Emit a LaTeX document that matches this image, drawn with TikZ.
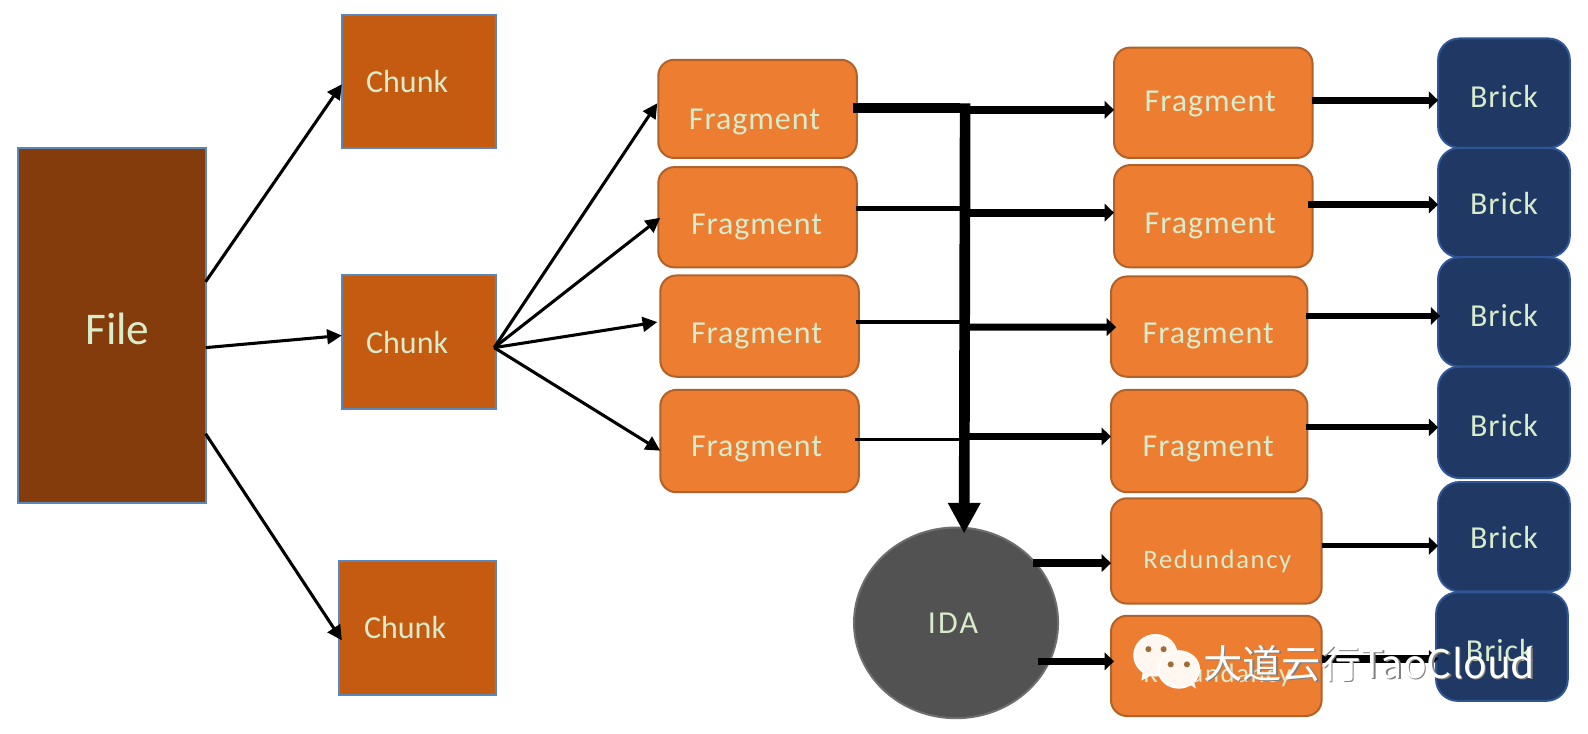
\documentclass[tikz,border=0pt]{standalone}
\usepackage{fontspec}
\setmainfont{Carlito}
\newfontfamily\wmfont{Noto Sans CJK SC}
\newfontfamily\spacedfont[LetterSpace=6]{Carlito}
\newfontfamily\midfont[LetterSpace=3]{Carlito}
\newfontfamily\idafont[LetterSpace=7]{Carlito}
\usetikzlibrary{arrows.meta,calc,shapes.geometric}
\definecolor{labelc}{HTML}{D8EBCB}
\definecolor{bluebd}{HTML}{5B86B8}
\definecolor{filec}{HTML}{843C0C}
\definecolor{chunkc}{HTML}{C55A11}
\definecolor{fragc}{HTML}{ED7D31}
\definecolor{fragbd}{HTML}{B0622A}
\definecolor{brickc}{HTML}{1F3864}
\definecolor{brickbd}{HTML}{2F5597}
\definecolor{idac}{HTML}{525252}
\definecolor{idabd}{HTML}{6E6E6E}
\tikzset{
  x=0.7595pt,y=-0.7595pt,
  boxbase/.style={inner sep=0pt,outer sep=0pt,line width=1.5pt},
  filebox/.style={boxbase,draw=bluebd,fill=filec},
  chunkbox/.style={boxbase,draw=bluebd,fill=chunkc},
  fragbox/.style={boxbase,draw=fragbd,fill=fragc,rounded corners=12pt},
  brickbox/.style={boxbase,draw=brickbd,fill=brickc,rounded corners=16pt},
  idanode/.style={boxbase,shape=ellipse,draw=idabd,fill=idac},
  txt/.style={text=labelc,inner sep=0pt,font=\midfont\fontsize{24}{28}\selectfont},
  txtchunk/.style={text=labelc,inner sep=0pt,font=\fontsize{24}{28}\selectfont},
  txtida/.style={text=labelc,inner sep=0pt,font=\idafont\fontsize{24}{28}\selectfont},
  txtbig/.style={text=labelc,inner sep=0pt,font=\fontsize{34}{40}\selectfont},
  txtred/.style={text=labelc,inner sep=0pt,font=\spacedfont\fontsize{20}{24}\selectfont},
  arr/.style={line width=2.3pt,-{Triangle[length=11pt,width=11pt]}},
  arrthick/.style={line width=#1,-{Triangle[length=7pt,width=13pt]}},
  bar/.style={line width=#1},
}
\newcommand{\bx}[7]{% style,name,x1,y1,x2,y2,empty
  \pgfmathsetmacro{\cxv}{(#3+#5)/2}\pgfmathsetmacro{\cyv}{(#4+#6)/2}
  \pgfmathsetmacro{\wv}{(#5-#3)*0.7595}\pgfmathsetmacro{\hv}{(#6-#4)*0.7595}
  \node[#1,minimum width=\wv pt,minimum height=\hv pt] (#2) at (\cxv,\cyv) {};
}
\begin{document}
\begin{tikzpicture}
\useasboundingbox (0,0) rectangle (1568,724.7);
\fill[white] (0,0) rectangle (1568,724.7);
% boxes
\bx{filebox}{file}{17.5}{146.5}{203}{497}{}
\bx{chunkbox}{ch1}{337.5}{14.5}{490}{146}{}
\bx{chunkbox}{ch2}{337.5}{271.5}{490}{404}{}
\bx{chunkbox}{ch3}{334.5}{553.5}{490}{686}{}
\bx{fragbox}{lf1}{650}{59}{846}{156}{}
\bx{fragbox}{lf2}{650}{165}{846}{264}{}
\bx{fragbox}{lf3}{652}{272}{848}{372}{}
\bx{fragbox}{lf4}{652}{385}{848}{486}{}
\bx{fragbox}{rf1}{1100}{47}{1296}{156}{}
\bx{fragbox}{rf2}{1100}{163}{1296}{264}{}
\bx{fragbox}{rf3}{1097}{273}{1291}{372}{}
\bx{fragbox}{rf4}{1097}{385}{1291}{486}{}
\bx{fragbox}{rd1}{1097}{492}{1305}{596}{}
\bx{fragbox}{rd2}{1097}{608}{1305}{707}{}
\bx{brickbox}{b1}{1420}{38}{1550}{146}{}
\bx{brickbox}{b2}{1420}{146}{1550}{254}{}
\bx{brickbox}{b3}{1420}{254}{1550}{362}{}
\bx{brickbox}{b4}{1420}{362}{1550}{472}{}
\bx{brickbox}{b5}{1420}{476}{1550}{584}{}
\bx{brickbox}{b6}{1418}{585}{1548}{692}{}
\node[idanode,minimum width=153pt,minimum height=143pt] (ida) at (944,615) {};
% labels
\node[txtbig] (tfile) at (116,325) {File};
\node[txtchunk] (tc1) at (402,80) {Chunk};
\node[txtchunk] (tc2) at (402,338) {Chunk};
\node[txtchunk] (tc3) at (400,620) {Chunk};
\node[txt] (tl1) at (745,120) {Fragment};
\node[txt] (tl2) at (747,224) {Fragment};
\node[txt] (tl3) at (747,332) {Fragment};
\node[txt] (tl4) at (747,443) {Fragment};
\node[txt] (tr1) at (1195,103) {Fragment};
\node[txt] (tr2) at (1195,223) {Fragment};
\node[txt] (tr3) at (1193,332) {Fragment};
\node[txt] (tr4) at (1193,443) {Fragment};
\node[txtred] (trd1) at (1202,554) {Redundancy};
\node[txtred] (trd2) at (1202,667) {Redundancy};
\node[txt] (tb1) at (1485,95) {Brick};
\node[txt] (tb2) at (1485,201) {Brick};
\node[txt] (tb3) at (1485,312) {Brick};
\node[txt] (tb4) at (1485,420) {Brick};
\node[txt] (tb5) at (1485,531) {Brick};
\node[txt] (tb6) at (1481,642) {Brick};
\node[txtida] (tida) at (941,615) {IDA};
% thin arrows
\draw[arr] ($(file.east)+(0,-43.5)$) -- ($(ch1.west)+(0,3)$);
\draw[arr] ($(file.east)+(0,21.5)$) -- ($(ch2.west)+(0,-6.5)$);
\draw[arr] ($(file.east)+(0,106.5)$) -- ($(ch3.west)+(3,12.5)$);
\coordinate (hub) at ($(ch2.east)+(-2,5.5)$);
\draw[arr] (hub) -- ($(lf1.west)+(-1,-5.5)$);
\draw[arr] (hub) -- ($(lf2.west)+(2,0.5)$);
\draw[arr] (hub) -- ($(lf3.west)+(-3,-4)$);
\draw[arr] (hub) -- ($(lf4.west)+(0,9.5)$);
% bus
\coordinate (j0) at (953,102);
\coordinate (j1) at (953,108.5);
\coordinate (j2) at (953,210);
\coordinate (j3) at (953,323);
\coordinate (j4) at (953,431);
\draw[bar=7.6pt] ($(lf1.east)+(-4,-0.5)$) -- (948,107);
\draw[bar=3.6pt] ($(lf2.east)+(-1,-9)$) -- (953,205.5);
\draw[bar=3.4pt] ($(lf3.east)+(-3,-4)$) -- (953,318);
\draw[bar=2.8pt] ($(lf4.east)+(-4,-1.5)$) -- (953,434);
\draw[arrthick=5.8pt] (j1) -- ($(rf1.west)+(0,7)$);
\draw[arrthick=5.8pt] (j2) -- ($(rf2.west)+(0,-3.5)$);
\draw[arrthick=5.2pt] (j3) -- ($(rf3.west)+(5,0.5)$);
\draw[arrthick=5.2pt] (j4) -- ($(rf4.west)+(0,-4.5)$);
\draw[line width=8pt,-{Triangle[length=23pt,width=23pt]}] (j0) -- ($(ida.north)+(8,6)$);
% right arrows
\draw[arrthick=5.5pt] ($(rf1.east)+(-1,-2.5)$) -- ($(b1.west)+(0,7)$);
\draw[arrthick=5.5pt] ($(rf2.east)+(-4,-11.5)$) -- ($(b2.west)+(0,2)$);
\draw[arrthick=4.6pt] ($(rf3.east)+(-1,-10.5)$) -- ($(b3.west)+(2,4)$);
\draw[arrthick=4.6pt] ($(rf4.east)+(-1,-13.5)$) -- ($(b4.west)+(0,5)$);
\draw[arrthick=3.8pt] ($(rd1.east)+(0,-5)$) -- ($(b5.west)+(0,9)$);
\draw[arrthick=6pt] ($(rd2.east)+(0,-7)$) -- ($(b6.west)+(2,12)$);
\draw[arrthick=5.5pt] ($(ida.east)+(-25,-59)$) -- ($(rd1.west)+(0,12)$);
\draw[arrthick=5.5pt] ($(ida.east)+(-20,38)$) -- ($(rd2.west)+(3,-4.5)$);
% watermark
\begin{scope}[xshift=1.5pt]
\fill[white] (1139,647) ellipse (22 and 21);
\fill[white] (1127,660) -- (1125,672) -- (1140,664) -- cycle;
\fill[white!94!orange] (1139,647) ellipse (20 and 19);
\fill[white!94!orange] (1128,660) -- (1127,670) -- (1139,663) -- cycle;
\fill[white] (1162,661) ellipse (21 and 19);
\fill[white!94!orange] (1162,661) ellipse (19 and 17);
\fill[white!94!orange] (1170,674) -- (1179,680) -- (1176,670) -- cycle;
\fill[brown!85!black] (1132,641) circle (3) (1147,641) circle (3) (1154,656) circle (3) (1170,656) circle (3);
\end{scope}
\node[inner sep=0pt,text=gray,font=\wmfont\fontsize{29.5}{34}\selectfont] (wms) at (1353.5,656.5) {大道云行TaoCloud};
\node[inner sep=0pt,text=white,font=\wmfont\fontsize{29.5}{34}\selectfont] (wm) at (1352,655) {大道云行TaoCloud};
\end{tikzpicture}
\end{document}
